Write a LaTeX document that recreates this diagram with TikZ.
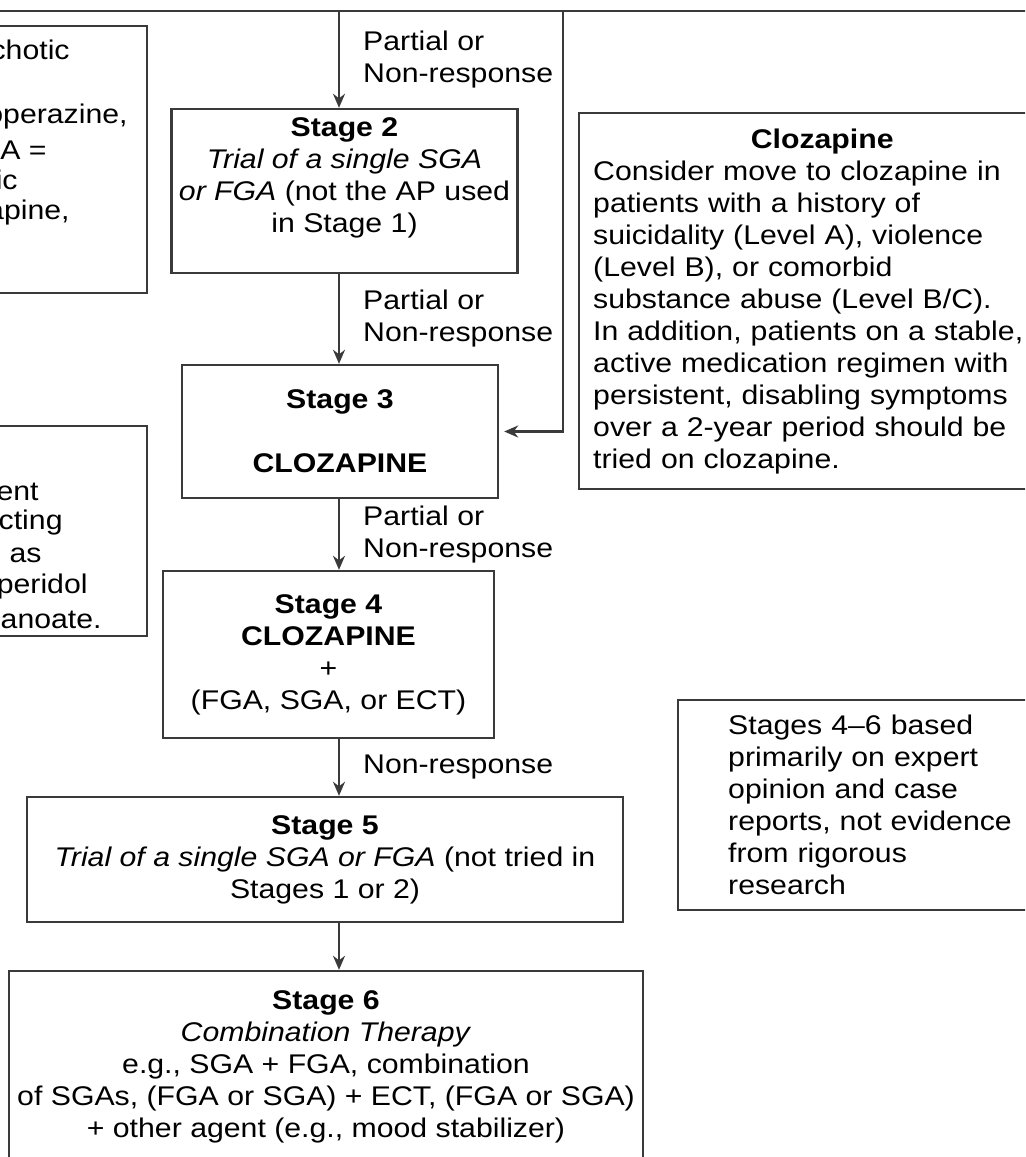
\documentclass[tikz,border=0pt]{standalone}
\usepackage{fontspec}
\setmainfont{Liberation Sans}[FakeStretch=1.12]
\usepackage{tikz}
\usetikzlibrary{arrows.meta}

\definecolor{linegray}{HTML}{3A3A3A}
\tikzset{
  >={Stealth[length=7pt,width=6pt]},
  every node/.append style={font=\fontsize{13.5}{16}\selectfont},
  stagebox/.style={draw=linegray, line width=1.2pt, align=center, inner sep=0pt},
  sidebox/.style={draw=linegray, line width=1.2pt, align=left, inner ysep=0pt},
  flow/.style={->, color=linegray, line width=1.2pt},
  lbl/.style={anchor=west, xshift=11.5pt, align=left, inner sep=0pt, text=black},
  frag/.style={anchor=east, inner sep=0pt}
}

\begin{document}
\begin{tikzpicture}[x=0.5pt, y=-0.5pt]
  \useasboundingbox (0,0) rectangle (1025,1157);
  \clip (0,0) rectangle (1025,1157);

  % stage column
  \node[stagebox, minimum width=540pt, minimum height=60pt, anchor=south] (s1) at (512,12) {};
  \node[stagebox, minimum width=173pt, minimum height=82pt] (s2) at (344.5,191)
    {\textbf{Stage 2}\\ \textit{Trial of a single SGA}\\ \textit{or FGA} (not the AP used\\ in Stage 1)\\ \mbox{}};
  \node[stagebox, minimum width=158pt, minimum height=66.5pt] (s3) at (340,431.5)
    {\textbf{Stage 3}\\[16pt] \textbf{CLOZAPINE}};
  \node[stagebox, minimum width=165.5pt, minimum height=83.5pt] (s4) at (328.5,654.5)
    {\textbf{Stage 4}\\ \textbf{CLOZAPINE}\\ +\\ (FGA, SGA, or ECT)};
  \node[stagebox, minimum width=298pt, minimum height=62.5pt] (s5) at (325,859.5)
    {\textbf{Stage 5}\\ \textit{Trial of a single SGA or FGA} (not tried in\\ Stages 1 or 2)};
  \node[stagebox, minimum width=317pt, minimum height=95.5pt] (s6) at (326,1066.5)
    {\textbf{Stage 6}\\ \textit{Combination Therapy}\\ e.g., SGA + FGA, combination\\
     of SGAs, (FGA or SGA) + ECT, (FGA or SGA)\\ + other agent (e.g., mood stabilizer)};

  % side boxes
  \node[sidebox, anchor=north west, text width=229pt, inner xsep=7pt,
        minimum width=240pt, minimum height=188pt] (cz) at (578,112)
    {{\centering\bfseries Clozapine\par}
     Consider move to clozapine in\\ patients with a history of\\
     suicidality (Level A), violence\\ (Level B), or comorbid\\
     substance abuse (Level B/C).\\ In addition, patients on a stable,\\
     active medication regimen with\\ persistent, disabling symptoms\\
     over a 2-year period should be\\ tried on clozapine.};
  \node[sidebox, anchor=north west, text width=150pt, inner xsep=11.5pt,
        minimum width=200pt, minimum height=105pt] (note) at (677,699)
    {Stages 4--6 based\\ primarily on expert\\ opinion and case\\
     reports, not evidence\\ from rigorous\\ research};
  \node[sidebox, anchor=north east, minimum width=150pt, minimum height=133.5pt] (lA) at (148,25) {};
  \node[sidebox, anchor=north east, minimum width=150pt, minimum height=105pt] (lB) at (148,425) {};

  % cut-off text in the left boxes
  \foreach \txt/\xe/\ye [count=\k] in {chotic/70/50, {operazine,}/128/117, A =/47/150,
      ic/18/180, {apine,}/70/213}
    \node[frag] (fa\k) at (\xe,\ye) {\txt};
  \foreach \txt/\xe/\ye [count=\k] in {ent/39/492, cting/63/523, as/42/555,
      peridol/88/587, canoate./102/620}
    \node[frag] (fb\k) at (\xe,\ye) {\txt};

  % connectors
  \coordinate (ax) at (339,0);
  \coordinate (rx) at (563,0);
  \path[flow]
  (s1.south -| ax) edge node[lbl] {Partial or\\Non-response} (s2.north -| ax)
  (s2.south -| ax) edge node[lbl] {Partial or\\Non-response} (s3.north -| ax)
  (s3.south -| ax) edge node[lbl] {Partial or\\Non-response} (s4.north -| ax)
  (s4.south -| ax) edge node[lbl] {Non-response} (s5.north -| ax)
  (s5.south -| ax) edge (s6.north -| ax)
  ;
  \draw[flow, shorten >=2.5pt] (s1.south -| rx) |- (s3.east);
\end{tikzpicture}
\end{document}
